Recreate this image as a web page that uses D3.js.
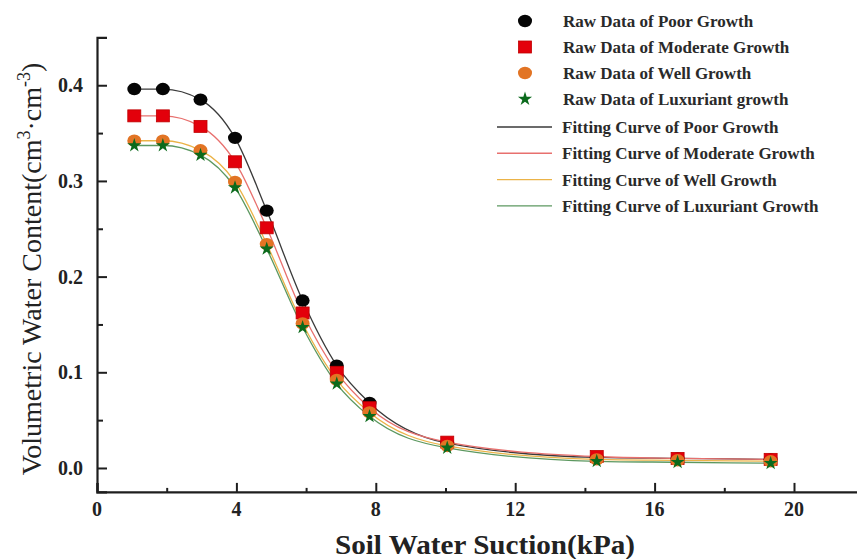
<!DOCTYPE html>
<html>
<head>
<meta charset="utf-8">
<script src="https://cdn.jsdelivr.net/npm/d3@7"></script>
<style>
  body { margin: 0; background: #fff; }
  svg { display: block; font-family: "Liberation Serif", "Times New Roman", serif; }
</style>
</head>
<body>
<div id="chart"></div>
<script>
// Soil water characteristic curves, four growth classes

// Data
const suction = [1.07, 1.89, 2.97, 3.96, 4.87, 5.90, 6.88, 7.82, 10.05, 14.34, 16.66, 19.33];
const poorGrowth = [0.396, 0.396, 0.385, 0.345, 0.269, 0.175, 0.107, 0.068, 0.026, 0.011, 0.010, 0.009];
const moderateGrowth = [0.368, 0.368, 0.357, 0.320, 0.251, 0.162, 0.100, 0.063, 0.027, 0.012, 0.010, 0.009];
const wellGrowth = [0.342, 0.342, 0.332, 0.299, 0.234, 0.151, 0.092, 0.058, 0.023, 0.009, 0.008, 0.007];
const luxuriantGrowth = [0.337, 0.337, 0.327, 0.293, 0.229, 0.147, 0.088, 0.054, 0.021, 0.007, 0.006, 0.005];

const xTicks = [0, 4, 8, 12, 16, 20];
const xMinorTicks = [2, 6, 10, 14, 18];
const yTicks = [0.0, 0.1, 0.2, 0.3, 0.4];
const yMinorTicks = [0.05, 0.15, 0.25, 0.35];

const rawLabels = [
  'Raw Data of Poor Growth',
  'Raw Data of Moderate Growth',
  'Raw Data of Well Growth',
  'Raw Data of Luxuriant growth'
];
const fitLabels = [
  'Fitting Curve of Poor Growth',
  'Fitting Curve of Moderate Growth',
  'Fitting Curve of Well Growth',
  'Fitting Curve of Luxuriant Growth'
];

const WIDTH = 857, HEIGHT = 559;

// Series styling
const SERIES = [
  { values: poorGrowth,      marker: 'circle', fill: '#050505', line: '#3a3a3a' },
  { values: moderateGrowth,  marker: 'square', fill: '#e3000b', line: '#e8706e' },
  { values: wellGrowth,      marker: 'circle', fill: '#e27424', line: '#ebb347' },
  { values: luxuriantGrowth, marker: 'star',   fill: '#0b6a1c', line: '#5c9860' }
];

const svg = d3.select('#chart')
  .append('svg')
  .attr('width', WIDTH)
  .attr('height', HEIGHT);

// Scales
const x = d3.scaleLinear().domain([0, 22]).range([97, 97 + 22 * 34.85]);
const y = d3.scaleLinear().domain([-0.025, 0.45]).range([491.9, 37.4]);

const AXIS_COLOR = '#1e1e1e';

// X axis (ticks point inward / up)
const xAxisG = svg.append('g').attr('transform', `translate(0,${y(-0.025)})`);
xAxisG.call(d3.axisTop(x).tickValues(xTicks).tickSize(9).tickFormat(''));
xAxisG.append('g').call(d3.axisTop(x).tickValues(xMinorTicks).tickSize(4).tickFormat(''));
xAxisG.selectAll('.domain').attr('stroke', AXIS_COLOR).attr('stroke-width', 2.2);
xAxisG.selectAll('line').attr('stroke', AXIS_COLOR).attr('stroke-width', 2);
xAxisG.selectAll('.domain').filter((d, i) => i > 0).remove();

svg.append('g')
  .selectAll('text')
  .data(xTicks)
  .enter()
  .append('text')
  .attr('x', d => x(d))
  .attr('y', 516)
  .attr('text-anchor', 'middle')
  .attr('font-size', 20)
  .attr('font-weight', 'bold')
  .attr('fill', '#222')
  .text(d => d);

// Y axis (ticks point inward / right)
const yAxisG = svg.append('g').attr('transform', `translate(${x(0)},0)`);
yAxisG.call(d3.axisRight(y).tickValues(yTicks).tickSize(10).tickFormat(''));
yAxisG.append('g').call(d3.axisRight(y).tickValues(yMinorTicks).tickSize(6).tickFormat(''));
yAxisG.selectAll('.domain').attr('stroke', AXIS_COLOR).attr('stroke-width', 2.2);
yAxisG.selectAll('line').attr('stroke', AXIS_COLOR).attr('stroke-width', 2);
yAxisG.selectAll('.domain').filter((d, i) => i > 0).remove();

svg.append('g')
  .selectAll('text')
  .data(yTicks)
  .enter()
  .append('text')
  .attr('x', 83)
  .attr('y', d => y(d) + 7)
  .attr('text-anchor', 'end')
  .attr('font-size', 20)
  .attr('font-weight', 'bold')
  .attr('fill', '#222')
  .text(d => d.toFixed(1));

// Axis titles
svg.append('text')
  .attr('x', 485)
  .attr('y', 554)
  .attr('text-anchor', 'middle')
  .attr('font-size', 27)
  .attr('font-weight', 'bold')
  .attr('fill', '#222')
  .attr('textLength', 300)
  .attr('lengthAdjust', 'spacingAndGlyphs')
  .text('Soil Water Suction(kPa)');

const yTitle = svg.append('text')
  .attr('transform', 'translate(41,269) rotate(-90)')
  .attr('text-anchor', 'middle')
  .attr('font-size', 28)
  .attr('fill', '#222');
yTitle.append('tspan').text('Volumetric Water Content(cm');
yTitle.append('tspan').attr('dy', -11).attr('font-size', 18).text('3');
yTitle.append('tspan').attr('dy', 11).text('·cm');
yTitle.append('tspan').attr('dy', -11).attr('font-size', 18).text('-3');
yTitle.append('tspan').attr('dy', 11).text(')');

// Fitting curves
const line = d3.line()
  .x(d => x(d[0]))
  .y(d => y(d[1]))
  .curve(d3.curveMonotoneX);

svg.append('g')
  .selectAll('path')
  .data(SERIES)
  .enter()
  .append('path')
  .attr('d', s => line(suction.map((v, i) => [v, s.values[i]])))
  .attr('fill', 'none')
  .attr('stroke', s => s.line)
  .attr('stroke-width', 1.3);

/**
 * Draws one marker of the given kind at (cx, cy)
 */
function drawMarker(g, kind, fill, cx, cy) {
  if (kind === 'circle') {
    g.append('ellipse')
      .attr('cx', cx).attr('cy', cy)
      .attr('rx', 7).attr('ry', 6.2)
      .attr('fill', fill);
  } else if (kind === 'square') {
    g.append('rect')
      .attr('x', cx - 6.5).attr('y', cy - 6)
      .attr('width', 13).attr('height', 12)
      .attr('fill', fill)
      .attr('stroke', '#c00000')
      .attr('stroke-width', 0.8);
  } else {
    g.append('path')
      .attr('transform', `translate(${cx},${cy})`)
      .attr('d', d3.symbol().type(d3.symbolStar).size(62)())
      .attr('fill', fill);
  }
}

// Raw data markers
const markerG = svg.append('g');
SERIES.forEach(s => {
  suction.forEach((v, i) => drawMarker(markerG, s.marker, s.fill, x(v), y(s.values[i])));
});

// Legend
const legend = svg.append('g').attr('font-size', 17).attr('font-weight', 'bold').attr('fill', '#2a2a2a');
SERIES.forEach((s, i) => {
  const ly = 21 + i * 26;
  drawMarker(legend, s.marker, s.fill, 525, ly);
  legend.append('text').attr('x', 563).attr('y', ly + 6).text(rawLabels[i]);
});
SERIES.forEach((s, i) => {
  const ly = 127 + i * 26.3;
  legend.append('line')
    .attr('x1', 497).attr('x2', 552)
    .attr('y1', ly).attr('y2', ly)
    .attr('stroke', s.line)
    .attr('stroke-width', 1.4);
  legend.append('text').attr('x', 562).attr('y', ly + 6).text(fitLabels[i]);
});
</script>
</body>
</html>
